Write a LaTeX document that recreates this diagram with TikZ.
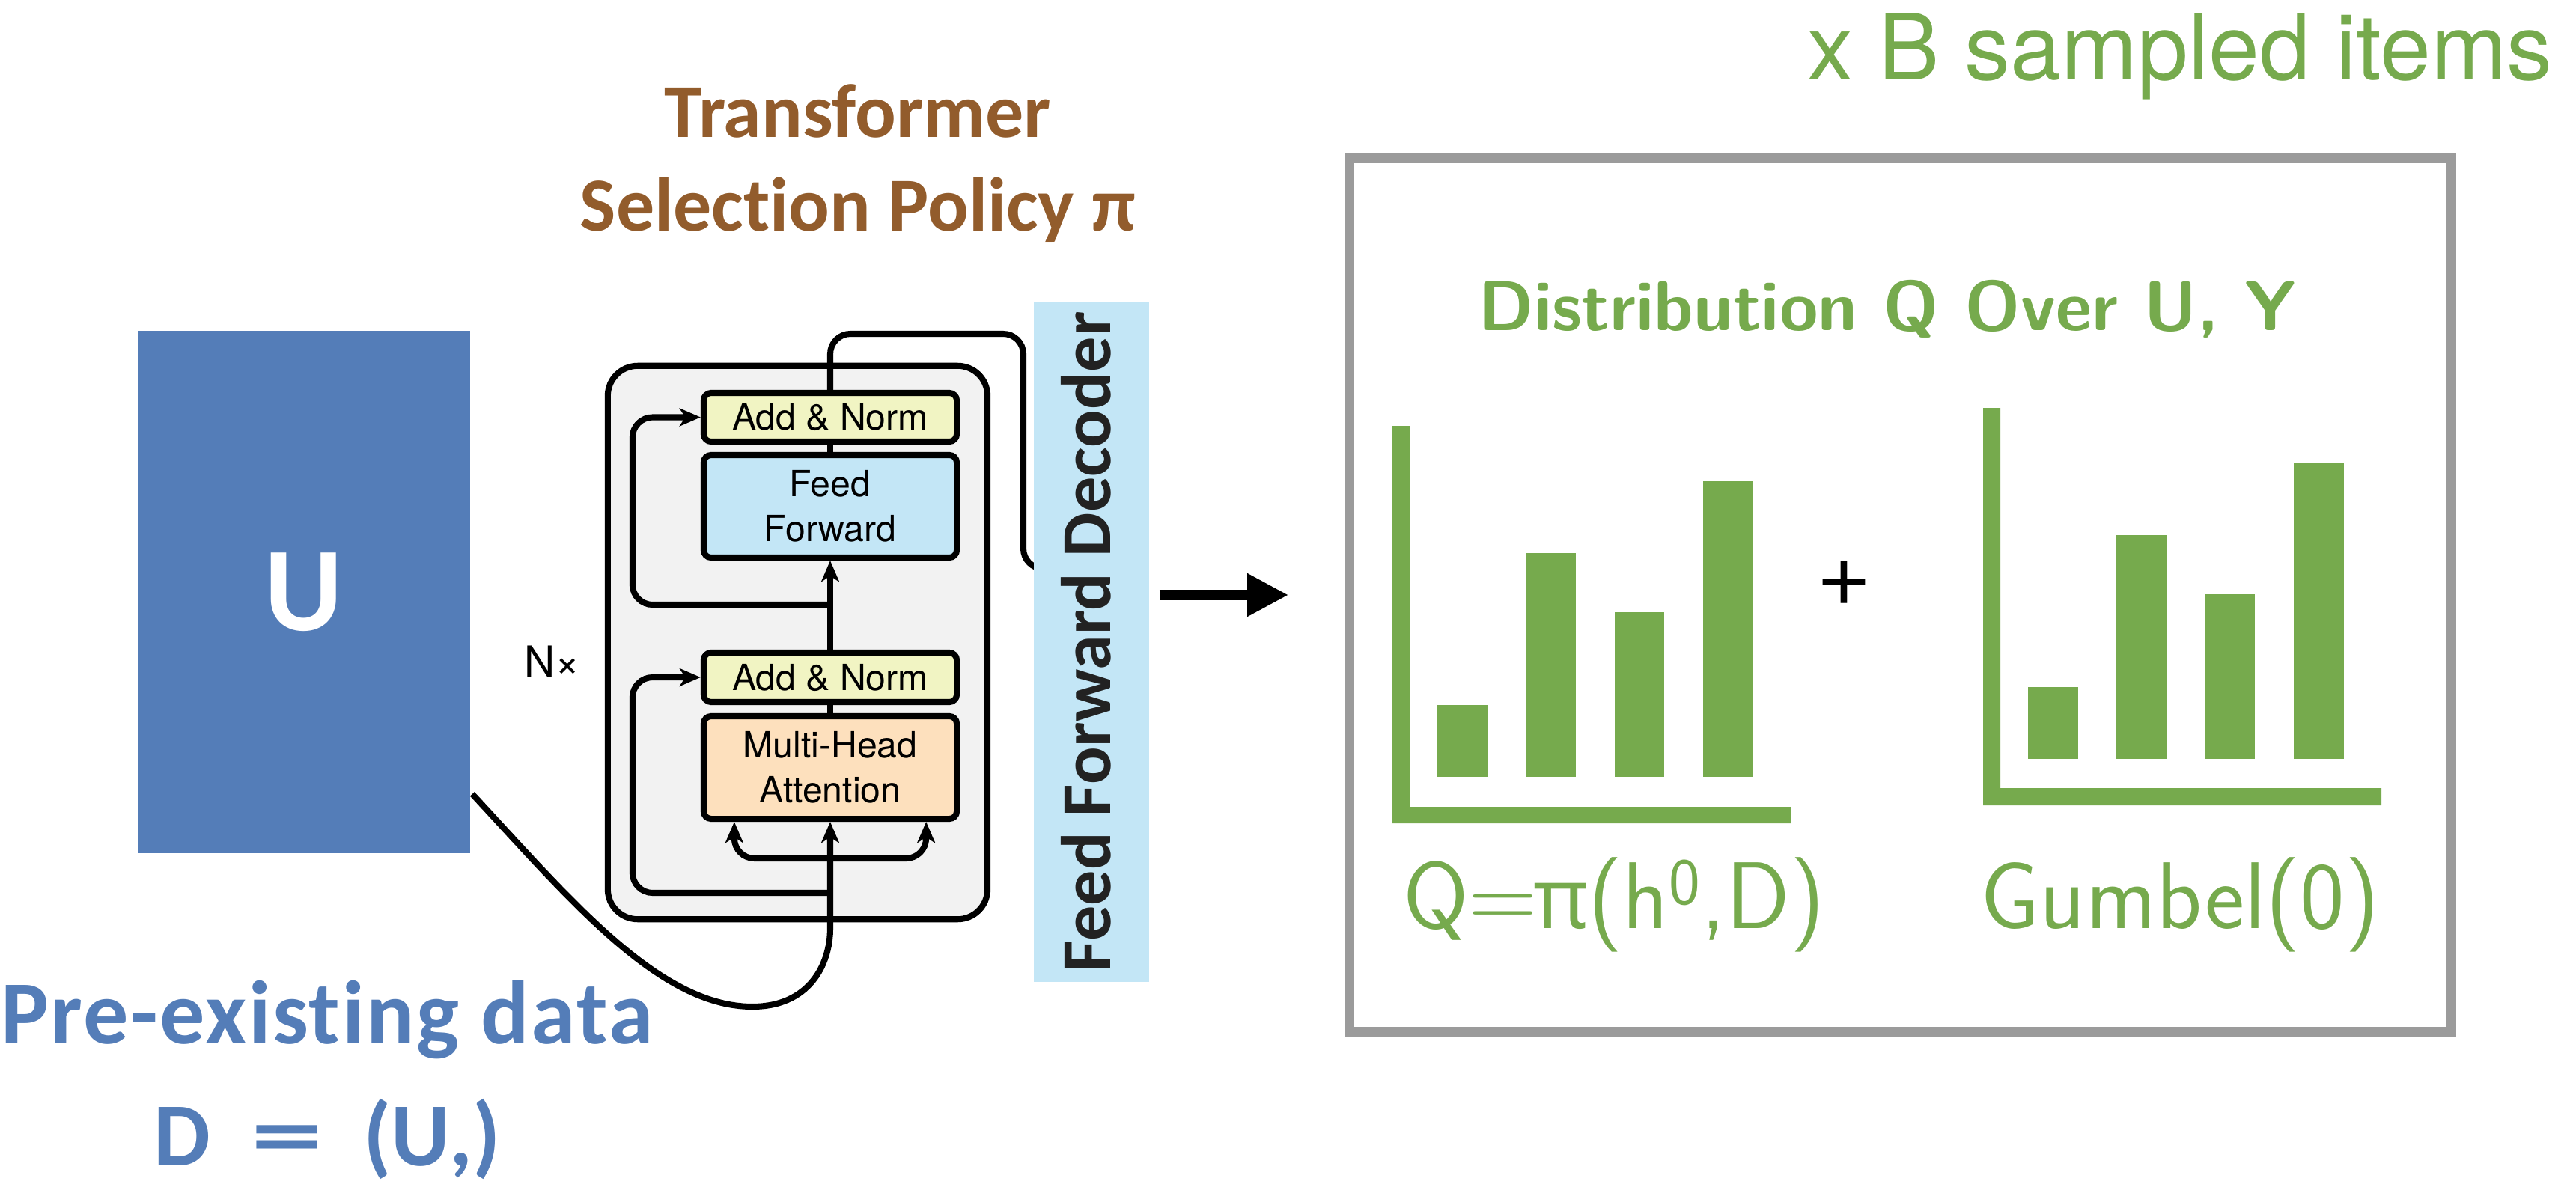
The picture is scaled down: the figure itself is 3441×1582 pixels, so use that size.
\documentclass[tikz,border=0pt]{standalone}
\usepackage{fontspec}
\usepackage{graphicx}
\usetikzlibrary{arrows.meta,calc}
\newfontfamily\carlito[Ligatures=NoCommon]{Carlito}
\newfontfamily\carlitowide[Ligatures=NoCommon,LetterSpace=2]{Carlito}
\newfontfamily\heros{TeX Gyre Heros}
\newfontfamily\notosans{Noto Sans}
\definecolor{ublue}{HTML}{547DB8}
\definecolor{policybrown}{HTML}{925C2C}
\definecolor{qgreen}{HTML}{76AA4D}
\definecolor{decblue}{HTML}{C3E6F6}
\definecolor{normyellow}{HTML}{F1F4C3}
\definecolor{attnorange}{HTML}{FDE0BD}
\definecolor{blockgray}{HTML}{F2F2F2}
\definecolor{framegray}{HTML}{9B9B9B}
\definecolor{dectext}{HTML}{222222}
\begin{document}
\begin{tikzpicture}[x=0.01cm,y=-0.01cm,
  wire/.style={line width=2.3pt,black},
  wirearrow/.style={-{Stealth[length=8pt,width=6.8pt,inset=2.2pt]}},
  sublayer/.style={draw,line width=2.3pt,rounded corners=0.1cm,minimum width=3.38cm,
    inner sep=0pt,align=center,font=\heros\fontsize{13.7pt}{17pt}\selectfont},
  loopcorner/.style={rounded corners=0.27cm},
  greentext/.style={text=qgreen,anchor=base},
  bar/.style={fill=qgreen}]
\useasboundingbox (0,0) rectangle (3441,1582);

% ---------- pre-existing data ----------
\node[fill=ublue,minimum width=4.44cm,minimum height=6.98cm,inner sep=0pt,
  text=white,font=\carlito\bfseries\fontsize{45.5pt}{50pt}\selectfont] (U) at (406,791) {U};
\coordinate (Uout) at ($(U.south east)+(2,-80)$);
\node[anchor=base,text=ublue,font=\carlitowide\bfseries\fontsize{34.2pt}{40pt}\selectfont]
  (pre) at (437,1394) {Pre-existing data};
\node[anchor=base,text=ublue,font=\carlito\bfseries\fontsize{34.2pt}{40pt}\selectfont]
  (Ddef) at (437,1557) {D\hspace{0.45em}\scalebox{1.6}[1]{=}\hspace{0.45em}(U,)};

% ---------- transformer block ----------
\node[anchor=base,text=policybrown,font=\carlito\bfseries\fontsize{29pt}{35pt}\selectfont]
  (title1) at (1146,184) {Transformer};
\node[anchor=base,text=policybrown,font=\carlito\bfseries\fontsize{29pt}{35pt}\selectfont]
  (title2) at (1146,309) {Selection Policy π};

\node[draw,line width=2.3pt,fill=blockgray,rounded corners=0.4cm,
  minimum width=5.07cm,minimum height=7.39cm,inner sep=0pt] (tbox) at (1065.5,858.5) {};
\node[anchor=base west,font=\heros\fontsize{16.2pt}{20pt}\selectfont] (nx) at (688,904) {N×};

\node[sublayer,fill=normyellow,minimum height=0.65cm] (an2) at (1109,557.5) {Add \& Norm};
\node[sublayer,fill=decblue,minimum height=1.37cm] (ff) at (1109,676.5) {Feed\\Forward};
\node[sublayer,fill=normyellow,minimum height=0.66cm] (an1) at (1109,905) {Add \& Norm};
\node[sublayer,fill=attnorange,minimum height=1.37cm] (mha) at (1109,1025.5) {Multi-Head\\Attention};

\coordinate (join) at (1109,1240);
\coordinate (fork) at (1109,1147);
\coordinate (res1) at (1109,1193);
\coordinate (res2) at (1109,808);

% input from the data block
\draw[wire,wirearrow] (Uout) .. controls (760,1200) and (880,1345) .. (1005,1345)
  .. controls (1080,1345) and (1109,1290) .. (join) -- (mha.south);
% query / key / value branches
\draw[wire,wirearrow,loopcorner] (fork) -| ($(mha.south west)+(45,0)$);
\draw[wire,wirearrow,loopcorner] (fork) -| ($(mha.south east)+(-45,0)$);
% main path
\draw[wire] (mha.north) -- (an1.south);
\draw[wire,wirearrow] (an1.north) -- (ff.south);
\draw[wire] (ff.north) -- (an2.south);
% residual connections
\draw[wire,wirearrow,loopcorner] (res1) -| ($(tbox.west |- an1.west)+(37,0)$) -- (an1.west);
\draw[wire,wirearrow,loopcorner] (res2) -| ($(tbox.west |- an2.west)+(37,0)$) -- (an2.west);

% output to the decoder
\coordinate (outtop) at (1367,446);
\coordinate (outin) at (1420,760);
\draw[wire,loopcorner] (an2.north) |- (outtop) |- (outin);

\node[fill=decblue,minimum width=1.54cm,minimum height=9.09cm,inner sep=0pt] (dec) at (1458,857.5) {};
\node[rotate=90,anchor=base,text=dectext,font=\carlito\bfseries\fontsize{26.8pt}{30pt}\selectfont]
  (declabel) at (1483,858) {Feed Forward Decoder};

% ---------- sampled distribution ----------
\node[greentext,font=\heros\fontsize{34.7pt}{40pt}\selectfont] (batch) at (2912,107) {x B sampled items};
\node[draw=framegray,line width=3.7pt,minimum width=14.71cm,minimum height=11.66cm,inner sep=0pt]
  (frame) at (2538.5,795) {};
\draw[line width=3.7pt,-{Triangle[length=15.6pt,width=15.4pt]}]
  ($(dec.east |- frame.west)+(13,0)$) -- ($(frame.west)+(-75,0)$);

\node[greentext,font=\sffamily\bfseries\fontsize{26.7pt}{32pt}\selectfont] (dist) at (2521,441)
  {Distribution Q Over U, Y};

% policy chart
\fill[qgreen] (1859,569) -- (1883,569) -- (1883,1078) -- (2392,1078) -- (2392,1100) -- (1859,1100) -- cycle;
\fill[bar] (1920,942) rectangle (1987,1038);
\fill[bar] (2038,739) rectangle (2105,1038);
\fill[bar] (2157,818) rectangle (2223,1038);
\fill[bar] (2275,643) rectangle (2342,1038);

% gumbel chart
\fill[qgreen] (2649,545) -- (2672,545) -- (2672,1053) -- (3181,1053) -- (3181,1076) -- (2649,1076) -- cycle;
\fill[bar] (2709,918) rectangle (2776,1014);
\fill[bar] (2827,715) rectangle (2894,1014);
\fill[bar] (2945,794) rectangle (3012,1014);
\fill[bar] (3064,618) rectangle (3131,1014);

\node[font=\heros\fontsize{36pt}{40pt}\selectfont,inner sep=0pt] (plus) at (2463,779) {+};

\node[greentext,font=\sffamily\fontsize{36pt}{43pt}\selectfont] (qlabel) at (2156,1240)
  {Q=\hspace{-0.05em}{\notosans\fontsize{32pt}{40pt}\selectfont π}(h\textsuperscript{0},D)};
\node[greentext,font=\sffamily\fontsize{36pt}{43pt}\selectfont] (glabel) at (2912,1240) {Gumbel(0)};
\end{tikzpicture}
\end{document}
